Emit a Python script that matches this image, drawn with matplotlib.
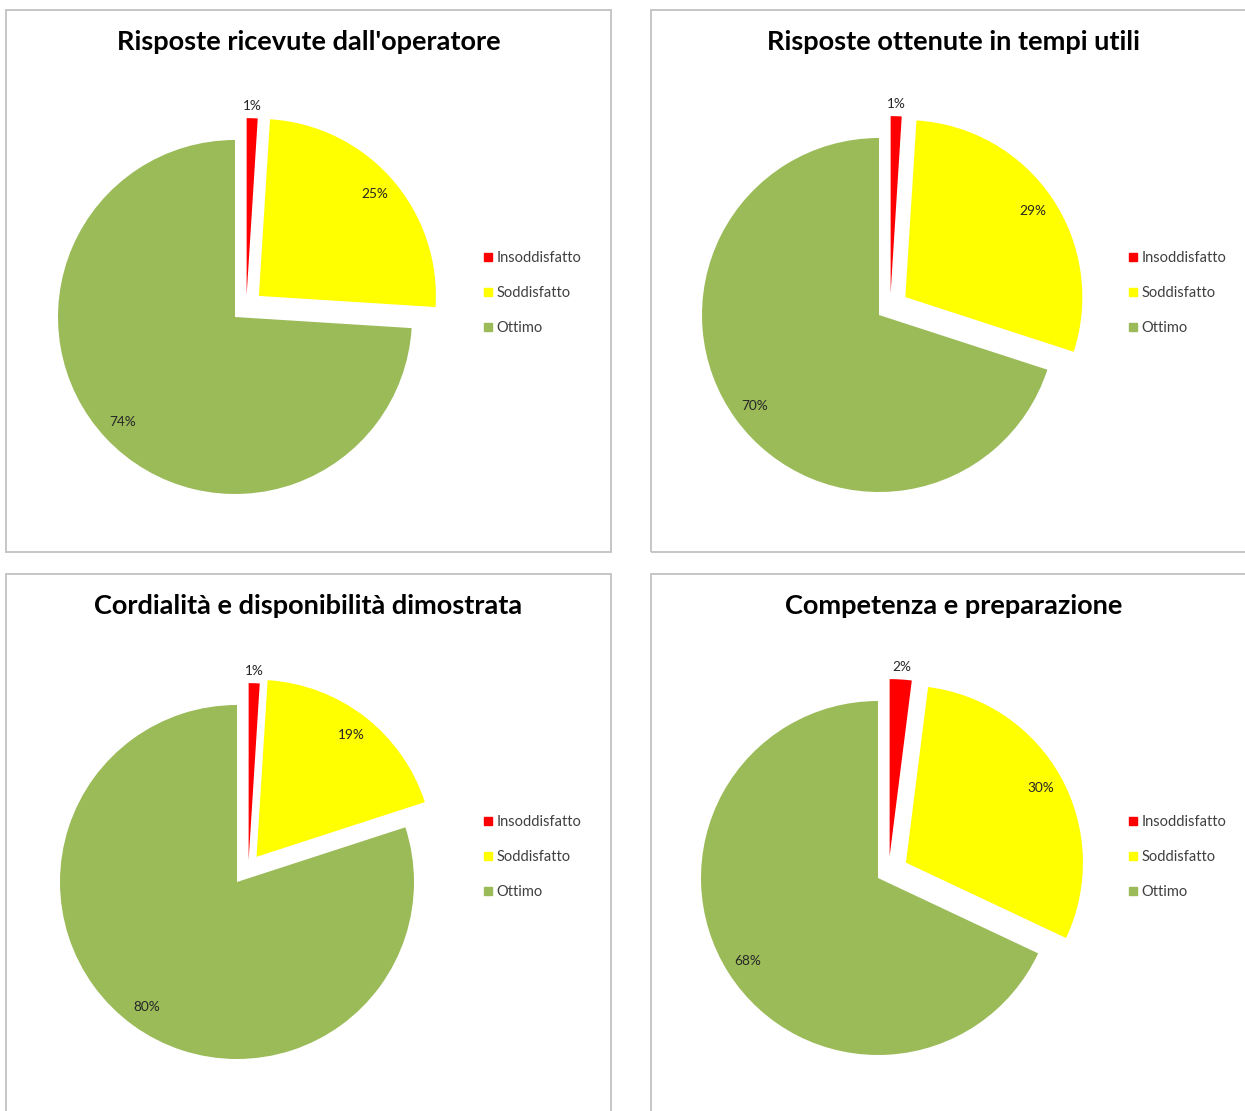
import matplotlib
matplotlib.use("Agg")
import matplotlib.pyplot as plt
from matplotlib.patches import Rectangle
from matplotlib.lines import Line2D
import numpy as np

titles = ["Risposte ricevute dall'operatore",
          "Risposte ottenute in tempi utili",
          "Cordialità e disponibilità dimostrata",
          "Competenza e preparazione"]
categories = ["Insoddisfatto", "Soddisfatto", "Ottimo"]
insoddisfatto = [1, 1, 1, 2]
soddisfatto = [25, 29, 19, 30]
ottimo = [74, 70, 80, 68]
colors = ["#FF0000", "#FFFF00", "#9BBB59"]

W, H = 1245, 1111
fig = plt.figure(figsize=(W / 100, H / 100), dpi=100)
fig.patch.set_facecolor("white")
plt.rcParams['font.family'] = ['Lato', 'DejaVu Sans']


def fx(x):
    return x / W


def fy(y):
    return 1 - y / H


panels = [(6, 10), (651, 10), (6, 574), (651, 574)]
panel_w, panel_h = 605, 542
centers = [(235, 317), (879, 315), (237, 882), (878, 878)]
R = 177.0
half = 280.0

for i in range(4):
    px, py = panels[i]
    fig.add_artist(Rectangle((fx(px), fy(py + panel_h)), panel_w / W, panel_h / H,
                             transform=fig.transFigure, fill=False,
                             edgecolor="#c6c6c6", lw=1.4, zorder=0))
    fig.text(fx(px + panel_w / 2), fy(py + 32), titles[i], ha="center", va="center",
             fontsize=19.5, fontweight="bold", color="#000000")

    cx, cy = centers[i]
    ax = fig.add_axes([fx(cx - half), fy(cy + half), 2 * half / W, 2 * half / H])
    vals = [insoddisfatto[i], soddisfatto[i], ottimo[i]]
    wedges, texts, autotexts = ax.pie(
        vals, colors=colors, startangle=90, counterclock=False,
        explode=[0, 0.18, 0], radius=1.0, autopct="%d%%", pctdistance=0.87,
        textprops=dict(fontsize=9.8, color="#262626"),
        wedgeprops=dict(linewidth=0))
    ax.set_xlim(-half / R, half / R)
    ax.set_ylim(-half / R, half / R)
    ax.set_aspect("equal")
    ax.axis("off")
    # red slice offset (Excel-style explosion)
    ang = np.deg2rad(28)
    off = 0.14
    dx, dy = off * np.sin(ang), off * np.cos(ang)
    wedges[0].set_center((dx, dy))
    th = np.deg2rad(90 - 360 * vals[0] / sum(vals) / 2)
    autotexts[0].set_position((dx + 1.07 * np.cos(th), dy + 1.07 * np.sin(th)))
    for t, v in zip(autotexts, vals):
        t.set_text(f"{v}%")

    lx = panels[i][0] + 478
    ly = panels[i][1] + 241
    handles = [Line2D([], [], marker="s", ls="", markerfacecolor=c, markeredgecolor=c,
                      markersize=5.5) for c in colors]
    leg = fig.legend(handles, categories, loc="upper left",
                     bbox_to_anchor=(fx(lx), fy(ly)), bbox_transform=fig.transFigure,
                     frameon=False, fontsize=10.5, handlelength=0.6, handletextpad=0.25,
                     labelspacing=1.45, borderpad=0, borderaxespad=0)
    for t in leg.get_texts():
        t.set_color("#404040")

fig.savefig("out.png", dpi=100, facecolor="white")
